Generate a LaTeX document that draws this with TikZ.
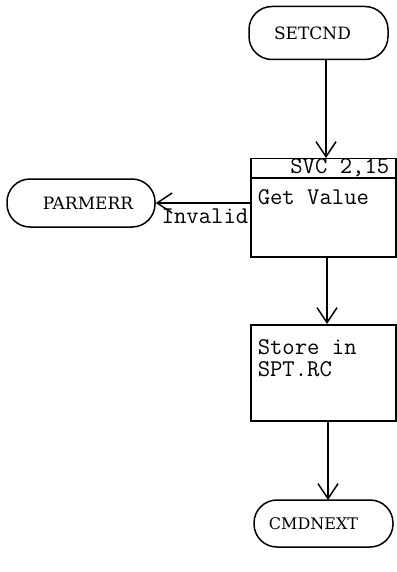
\documentclass[tikz,border=0pt]{standalone}
\usepackage{fontspec}
\newfontfamily\monof{Latin Modern Mono}
\newfontfamily\seriff{DejaVu Serif}
\usetikzlibrary{arrows.meta}
\begin{document}
\begin{tikzpicture}[x=1pt,y=-1pt,
  every path/.style={line width=1.5pt},
  term/.style={draw, line width=1.5pt, rounded corners=23pt, inner sep=0pt, font=\seriff\fontsize{17}{19}\selectfont},
  procbox/.style={draw, line width=1.5pt, inner sep=0pt, anchor=north west},
  mtext/.style={inner sep=0pt, font=\monof\fontsize{24}{21}\selectfont},
  arr/.style={-{Straight Barb[length=15pt,width=20pt,line width=1.5pt]}}]
\useasboundingbox (0,0) rectangle (396,572);
% terminals
\node[term, minimum width=139pt, minimum height=53pt] (setcnd) at (318.5,33) {SETCND\hspace*{12pt}};
\node[term, minimum width=148pt, minimum height=48pt] (parmerr) at (81,203) {\hspace*{14pt}PARMERR};
\node[term, minimum width=139pt, minimum height=47pt, font=\seriff\fontsize{16}{18}\selectfont] (cmdnext) at (323.5,523.5) {CMDNEXT\hspace*{20pt}};
% process box 1
\node[procbox, minimum width=145pt, minimum height=19pt] (hdr) at (250,158) {};
\node[mtext, anchor=base east] (svc) at (390,174) {SVC 2,15};
\node[procbox, minimum width=145pt, minimum height=79pt] (getv) at (250,177) {};
\node[mtext, anchor=base west] (gvtext) at (257,204) {Get Value};
% process box 2
\node[procbox, minimum width=145pt, minimum height=96pt] (store) at (250,324) {};
\node[mtext, anchor=base west] (st1) at (257,354) {Store in};
\node[mtext, anchor=base west] (st2) at (257,376) {SPT.RC};
% connectors
\coordinate (a1) at (326,59.5);
\coordinate (a1e) at (326,158);
\draw[arr] (a1) -- (a1e);
\coordinate (inv) at (250,203);
\draw[arr] (inv) -- (parmerr.east);
\node[mtext, anchor=base east] (invalid) at (249,223) {Invalid};
\coordinate (b1) at (327,256);
\coordinate (b1e) at (327,324);
\draw[arr] (b1) -- (b1e);
\coordinate (c1) at (328,420);
\coordinate (c1e) at (328,500);
\draw[arr] (c1) -- (c1e);
\end{tikzpicture}
\end{document}
